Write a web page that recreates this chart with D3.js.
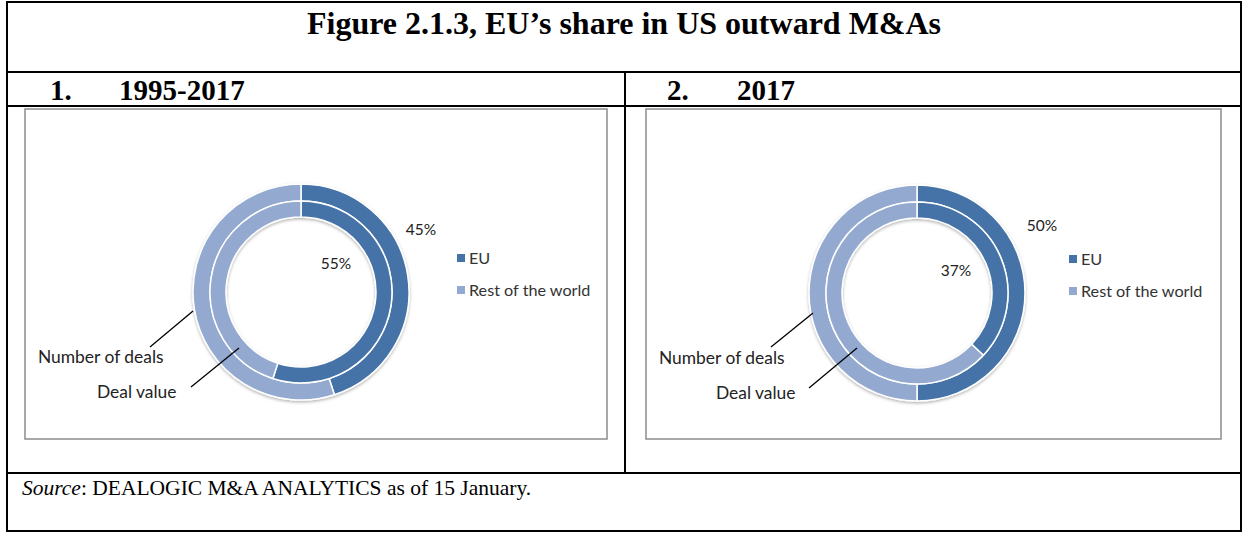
<!DOCTYPE html>
<html>
<head>
<meta charset="utf-8">
<script src="https://cdn.jsdelivr.net/npm/d3@7"></script>
<style>
  body { margin: 0; background: #fff; }
  svg { display: block; }
</style>
</head>
<body>
<svg id="chart" width="1248" height="540"></svg>
<script>
// data
const title = 'Figure 2.1.3, EU\u2019s share in US outward M&As';
const panelNums = ['1.', '2.'];
const panelLabels = ['1995-2017', '2017'];
const seriesNames = ['EU', 'Rest of the world'];
const ringNames = ['Number of deals', 'Deal value'];
// share of EU, per panel
const dealsEU = [45, 50];
const valueEU = [55, 37];
const dealsLabel = ['45%', '50%'];
const valueLabel = ['55%', '37%'];

const colors = d3.scaleOrdinal().domain(seriesNames).range(['#4572a7', '#93a9cf']);

const svg = d3.select('#chart');
const serif = 'Liberation Serif, Times New Roman, serif';
const labelFont = 'Lato, Carlito, Calibri, sans-serif';

// drop shadow like the excel donut
const defs = svg.append('defs');
const f = defs.append('filter').attr('id', 'shadow')
  .attr('x', '-10%').attr('y', '-10%').attr('width', '120%').attr('height', '125%');
f.append('feDropShadow').attr('dx', 0).attr('dy', 1.5)
  .attr('stdDeviation', 1.6).attr('flood-color', '#000').attr('flood-opacity', 0.3);

// outer table
const table = svg.append('g').attr('stroke', '#000').attr('stroke-width', 2).attr('fill', 'none');
table.append('rect').attr('x', 7).attr('y', 2).attr('width', 1234).attr('height', 529);
table.append('line').attr('x1', 7).attr('x2', 1241).attr('y1', 72).attr('y2', 72);
table.append('line').attr('x1', 7).attr('x2', 1241).attr('y1', 106).attr('y2', 106);
table.append('line').attr('x1', 7).attr('x2', 1241).attr('y1', 473).attr('y2', 473);
table.append('line').attr('x1', 625).attr('x2', 625).attr('y1', 72).attr('y2', 473);

svg.append('text')
  .attr('x', 624).attr('y', 34)
  .attr('text-anchor', 'middle')
  .attr('font-family', serif)
  .attr('font-weight', 'bold')
  .attr('font-size', 32)
  .text(title);

const source = svg.append('text')
  .attr('x', 22).attr('y', 495)
  .attr('font-family', serif)
  .attr('font-size', 21.5);
source.append('tspan').attr('font-style', 'italic').text('Source');
source.append('tspan').text(': DEALOGIC M&A ANALYTICS as of 15 January.');

const panels = [
  { frame: [25, 109, 582, 330], cx: 301, cy: 292, numX: 50, labX: 119,
    outerLab: [120, -62], innerLab: [35, -28], legX: 457,
    nLab: [38, 363], nLine: [[150, 347], [193, 311]],
    dLab: [97, 398], dLine: [[191, 387], [239, 348]] },
  { frame: [646, 109, 575, 330], cx: 917, cy: 293, numX: 667, labX: 737,
    outerLab: [125, -67], innerLab: [39, -22], legX: 1069,
    nLab: [659, 364], nLine: [[771, 347], [813, 313]],
    dLab: [716, 399], dLine: [[809, 388], [857, 348]] }
];

const pie = d3.pie().sort(null).value(d => d.v);
const outerArc = d3.arc().innerRadius(91).outerRadius(108);
const innerArc = d3.arc().innerRadius(75).outerRadius(91);

panels.forEach((p, i) => {
  svg.append('text')
    .attr('x', p.numX).attr('y', 100)
    .attr('font-family', serif)
    .attr('font-weight', 'bold').attr('font-size', 29)
    .text(panelNums[i]);
  svg.append('text')
    .attr('x', p.labX).attr('y', 100)
    .attr('font-family', serif)
    .attr('font-weight', 'bold').attr('font-size', 29)
    .text(panelLabels[i]);

  svg.append('rect')
    .attr('x', p.frame[0]).attr('y', p.frame[1])
    .attr('width', p.frame[2]).attr('height', p.frame[3])
    .attr('fill', '#fff').attr('stroke', '#8c8c8c').attr('stroke-width', 1.5);

  const g = svg.append('g').attr('transform', `translate(${p.cx},${p.cy})`);
  const deals = [{ k: seriesNames[0], v: dealsEU[i] }, { k: seriesNames[1], v: 100 - dealsEU[i] }];
  const value = [{ k: seriesNames[0], v: valueEU[i] }, { k: seriesNames[1], v: 100 - valueEU[i] }];

  const donut = g.append('g').attr('filter', 'url(#shadow)');
  donut.selectAll('path.outer').data(pie(deals)).join('path')
    .attr('class', 'outer')
    .attr('d', outerArc)
    .attr('fill', d => colors(d.data.k))
    .attr('stroke', '#fff').attr('stroke-width', 1.5);
  donut.selectAll('path.inner').data(pie(value)).join('path')
    .attr('class', 'inner')
    .attr('d', innerArc)
    .attr('fill', d => colors(d.data.k))
    .attr('stroke', '#fff').attr('stroke-width', 1.5);

  g.append('text')
    .attr('x', p.outerLab[0]).attr('y', p.outerLab[1]).attr('dy', '0.35em')
    .attr('text-anchor', 'middle')
    .attr('font-family', labelFont).attr('font-size', 15.5).attr('fill', '#222')
    .text(dealsLabel[i]);
  g.append('text')
    .attr('x', p.innerLab[0]).attr('y', p.innerLab[1]).attr('dy', '0.35em')
    .attr('text-anchor', 'middle')
    .attr('font-family', labelFont).attr('font-size', 15.5).attr('fill', '#222')
    .text(valueLabel[i]);

  // legend
  const leg = svg.append('g').attr('transform', `translate(${p.legX},${p.cy - 34})`);
  seriesNames.forEach((s, j) => {
    leg.append('rect').attr('x', 0).attr('y', j * 32 - 4).attr('width', 8).attr('height', 8)
      .attr('fill', colors(s));
    leg.append('text').attr('x', 12).attr('y', j * 32).attr('dy', '0.35em')
      .attr('font-family', labelFont).attr('font-size', 16.2).attr('fill', '#333')
      .text(s);
  });

  // leader lines for rings
  svg.append('line')
    .attr('x1', p.nLine[0][0]).attr('y1', p.nLine[0][1])
    .attr('x2', p.nLine[1][0]).attr('y2', p.nLine[1][1])
    .attr('stroke', '#000').attr('stroke-width', 1.3);
  svg.append('line')
    .attr('x1', p.dLine[0][0]).attr('y1', p.dLine[0][1])
    .attr('x2', p.dLine[1][0]).attr('y2', p.dLine[1][1])
    .attr('stroke', '#000').attr('stroke-width', 1.3);
  svg.append('text').attr('x', p.nLab[0]).attr('y', p.nLab[1])
    .attr('font-family', labelFont).attr('font-size', 17.4).attr('fill', '#222')
    .text(ringNames[0]);
  svg.append('text').attr('x', p.dLab[0]).attr('y', p.dLab[1])
    .attr('font-family', labelFont).attr('font-size', 17.4).attr('fill', '#222')
    .text(ringNames[1]);
});
</script>
</body>
</html>
